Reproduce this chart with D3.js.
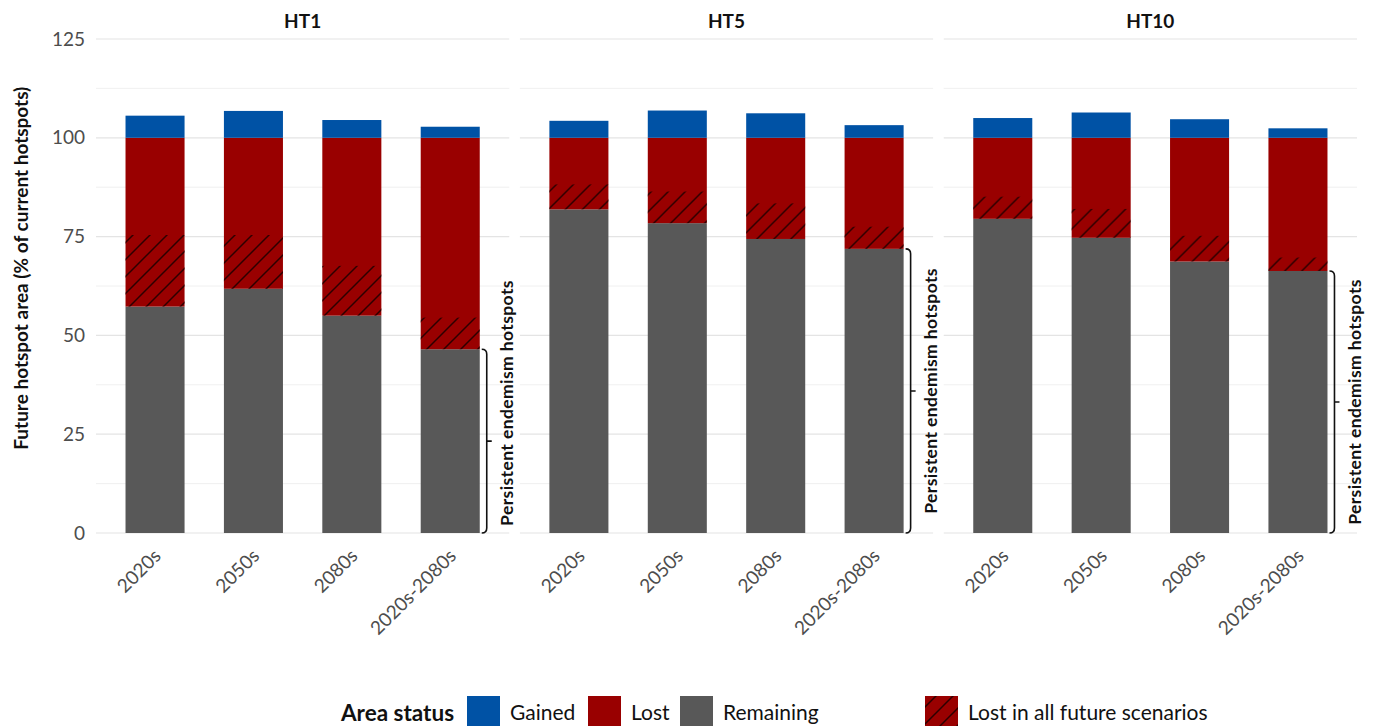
<!DOCTYPE html>
<html>
<head>
<meta charset="utf-8">
<script src="https://cdn.jsdelivr.net/npm/d3@7"></script>
<style>
  body { margin: 0; background: #fff; }
  text { font-family: Lato, "Open Sans", sans-serif; }
</style>
</head>
<body>
<div id="vis"></div>
<script>
// data (% of current hotspot area)
const panels = ["HT1", "HT5", "HT10"];
const periods = ["2020s", "2050s", "2080s", "2020s-2080s"];
// one row per panel, one value per period
const remaining = [[57.3, 61.8, 55.0, 46.5], [81.9, 78.4, 74.4, 71.9], [79.5, 74.7, 68.7, 66.3]];
const gained    = [[5.6, 6.8, 4.5, 2.8], [4.3, 6.9, 6.2, 3.2], [5.0, 6.4, 4.7, 2.4]];
const lostAll   = [[18.1, 13.6, 12.6, 8.0], [6.3, 8.0, 9.0, 5.6], [5.6, 7.3, 6.5, 3.4]];
const yTicks = [0, 25, 50, 75, 100, 125];
const yMinor = [12.5, 37.5, 62.5, 87.5, 112.5];
const legendItems = ["Gained", "Lost", "Remaining"];
const hatchLabel = "Lost in all future scenarios";

const COLORS = {Gained: "#0052a5", Lost: "#990000", Remaining: "#585858"};

const WIDTH = 1375, HEIGHT = 726;
const PLOT = {left: 96, right: 1357, top: 39, bottom: 533};

const svg = d3.select("#vis").append("svg")
  .attr("width", WIDTH).attr("height", HEIGHT);

const defs = svg.append("defs");
const pat = defs.append("pattern")
  .attr("id", "hatch")
  .attr("patternUnits", "userSpaceOnUse")
  .attr("width", 17).attr("height", 17);
pat.append("path")
  .attr("d", "M-4.25,4.25 L4.25,-4.25 M0,17 L17,0 M12.75,21.25 L21.25,12.75")
  .attr("stroke", "#1a0000").attr("stroke-width", 1.5).attr("stroke-opacity", 0.85);

// build rows for the stacked bars
const rows = [];
panels.forEach((p, i) => {
  periods.forEach((per, j) => {
    rows.push({panel: p, period: per, remaining: remaining[i][j],
               lost: 100 - remaining[i][j], gained: gained[i][j], lostAll: lostAll[i][j]});
  });
});

const X_PANEL = d3.scaleBand().domain(panels)
  .range([PLOT.left, PLOT.right]).paddingInner(0.025).paddingOuter(0);
const X_BAR = d3.scaleBand().domain(periods)
  .range([0, X_PANEL.bandwidth()]).paddingInner(0.4).paddingOuter(0.3);
const Y = d3.scaleLinear().domain([0, 125]).range([PLOT.bottom, PLOT.top]);

// y axis labels
svg.append("g").selectAll("text").data(yTicks).enter().append("text")
  .attr("x", 85).attr("y", d => Y(d)).attr("dy", "0.35em")
  .attr("text-anchor", "end").attr("fill", "#4d4d4d").attr("font-size", 19)
  .text(d => d);

svg.append("text")
  .attr("transform", "translate(28," + Y(67) + ") rotate(-90)")
  .attr("text-anchor", "middle").attr("font-size", 19).attr("font-weight", "bold")
  .attr("fill", "#111")
  .text("Future hotspot area (% of current hotspots)");

panels.forEach((p, i) => {
  const g = svg.append("g").attr("transform", "translate(" + X_PANEL(p) + ",0)");
  const W = X_PANEL.bandwidth();
  const data = rows.filter(d => d.panel === p);

  // grid
  g.selectAll(".minor").data(yMinor).enter().append("line")
    .attr("x1", 0).attr("x2", W).attr("y1", d => Y(d)).attr("y2", d => Y(d))
    .attr("stroke", "#eeeeee").attr("stroke-width", 0.9);
  g.selectAll(".major").data(yTicks).enter().append("line")
    .attr("x1", 0).attr("x2", W).attr("y1", d => Y(d)).attr("y2", d => Y(d))
    .attr("stroke", "#e4e4e4").attr("stroke-width", 1.2);

  // title
  g.append("text").attr("x", W / 2).attr("y", 28)
    .attr("text-anchor", "middle").attr("font-size", 19).attr("font-weight", "bold")
    .attr("fill", "#111").text(p);

  // stacked bars
  g.selectAll(".rem").data(data).enter().append("rect")
    .attr("x", d => X_BAR(d.period)).attr("width", X_BAR.bandwidth())
    .attr("y", d => Y(d.remaining)).attr("height", d => Y(0) - Y(d.remaining))
    .attr("fill", COLORS.Remaining);
  g.selectAll(".lost").data(data).enter().append("rect")
    .attr("x", d => X_BAR(d.period)).attr("width", X_BAR.bandwidth())
    .attr("y", Y(100)).attr("height", d => Y(d.remaining) - Y(100))
    .attr("fill", COLORS.Lost);
  g.selectAll(".gain").data(data).enter().append("rect")
    .attr("x", d => X_BAR(d.period)).attr("width", X_BAR.bandwidth())
    .attr("y", d => Y(100 + d.gained)).attr("height", d => Y(100) - Y(100 + d.gained))
    .attr("fill", COLORS.Gained);
  g.selectAll(".hatch").data(data).enter().append("rect")
    .attr("x", d => X_BAR(d.period)).attr("width", X_BAR.bandwidth())
    .attr("y", d => Y(d.remaining + d.lostAll)).attr("height", d => Y(d.remaining) - Y(d.remaining + d.lostAll))
    .attr("fill", "url(#hatch)");

  // x labels
  g.selectAll(".xlab").data(periods).enter().append("text")
    .attr("transform", d => "translate(" + (X_BAR(d) + X_BAR.bandwidth() / 2 - 3) + ",547) rotate(-45)")
    .attr("dy", "0.75em").attr("text-anchor", "end")
    .attr("fill", "#4d4d4d").attr("font-size", 19).text(d => d);

  // bracket for persistent hotspots (last period)
  const last = data[data.length - 1];
  const bx = X_BAR(last.period) + X_BAR.bandwidth() + 7;
  const yT = Y(last.remaining), yB = Y(0), yM = (yT + yB) / 2;
  g.append("path")
    .attr("d", `M${bx - 5},${yT} Q${bx},${yT} ${bx},${yT + 5} L${bx},${yB - 5} Q${bx},${yB} ${bx - 5},${yB}
                M${bx},${yM} L${bx + 5},${yM}`)
    .attr("fill", "none").attr("stroke", "#111").attr("stroke-width", 1.6);
  const ty = Math.min(yM, yB - 130);
  g.append("text")
    .attr("transform", "translate(" + (bx + 20) + "," + ty + ") rotate(-90)")
    .attr("text-anchor", "middle").attr("dy", "0.35em")
    .attr("font-size", 17.5).attr("font-weight", "bold").attr("fill", "#111")
    .attr("letter-spacing", 0.4)
    .text("Persistent endemism hotspots");
});

// legend
const leg = svg.append("g");
const LEG_Y = 713, KEY = 33, KEY_TOP = 696;
const keyX = [467, 588, 680];
leg.append("text").attr("x", 341).attr("y", LEG_Y).attr("dy", "0.35em")
  .attr("font-size", 22.5).attr("font-weight", "bold").attr("fill", "#111").text("Area status");
legendItems.forEach((k, i) => {
  leg.append("rect").attr("x", keyX[i]).attr("y", KEY_TOP).attr("width", KEY).attr("height", KEY)
    .attr("fill", COLORS[k]);
  leg.append("text").attr("x", keyX[i] + KEY + 10).attr("y", LEG_Y).attr("dy", "0.35em")
    .attr("font-size", 21).attr("fill", "#111").text(k);
});
const hx = 925;
leg.append("rect").attr("x", hx).attr("y", KEY_TOP).attr("width", KEY).attr("height", KEY)
  .attr("fill", COLORS.Lost);
leg.append("rect").attr("x", hx).attr("y", KEY_TOP).attr("width", KEY).attr("height", KEY)
  .attr("fill", "url(#hatch)");
leg.append("text").attr("x", hx + KEY + 10).attr("y", LEG_Y).attr("dy", "0.35em")
  .attr("font-size", 21).attr("fill", "#111").text(hatchLabel);
</script>
</body>
</html>
